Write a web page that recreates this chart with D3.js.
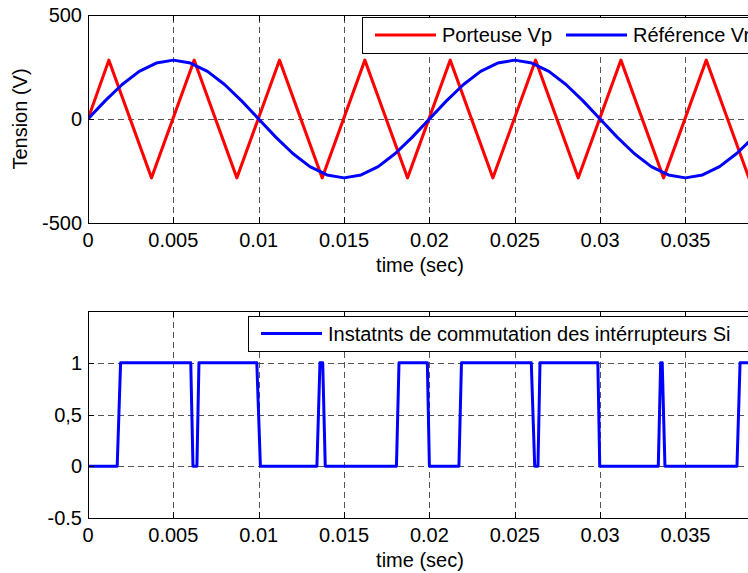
<!DOCTYPE html>
<html>
<head>
<meta charset="utf-8">
<script src="https://cdn.jsdelivr.net/npm/d3@7"></script>
<style>
  body { margin: 0; background: #fff; overflow: hidden; }
  text { font-family: "Liberation Sans", Arial, Helvetica, sans-serif; fill: #000; }
</style>
</head>
<body>
<svg id="fig" width="748" height="573"></svg>
<script>
// x axis ticks (seconds), shared by both plots
var timeTicks = [0, 0.005, 0.01, 0.015, 0.02, 0.025, 0.03, 0.035];
var timeTickLabels = ["0", "0.005", "0.01", "0.015", "0.02", "0.025", "0.03", "0.035"];

// top plot: triangular carrier (vertices)
var carrierTimes = [0, 0.00122, 0.00372, 0.00622, 0.00872, 0.01122, 0.01372, 0.01622, 0.01872,
                    0.02122, 0.02372, 0.02622, 0.02872, 0.03122, 0.03372, 0.03622, 0.03872, 0.04];
var carrierVolts = [0, 283, -283, 283, -283, 283, -283, 283, -283,
                    283, -283, 283, -283, 283, -283, 283, -283, -130];

// top plot: sinusoidal reference, one reading per ms
var refTimes = [0, 0.001, 0.002, 0.003, 0.004, 0.005, 0.006, 0.007, 0.008, 0.009,
                0.01, 0.011, 0.012, 0.013, 0.014, 0.015, 0.016, 0.017, 0.018, 0.019,
                0.02, 0.021, 0.022, 0.023, 0.024, 0.025, 0.026, 0.027, 0.028, 0.029,
                0.03, 0.031, 0.032, 0.033, 0.034, 0.035, 0.036, 0.037, 0.038, 0.039, 0.04];
var refVolts = [0, 87, 166, 229, 269, 283, 269, 229, 166, 87,
                0, -87, -166, -229, -269, -283, -269, -229, -166, -87,
                0, 87, 166, 229, 269, 283, 269, 229, 166, 87,
                0, -87, -166, -229, -269, -283, -269, -229, -166, -87, 0];
var topYTicks = [-500, 0, 500];
var topYTickLabels = ["-500", "0", "500"];

// bottom plot: switching states
var pulseTimes = [0, 0.00171, 0.00191, 0.00602, 0.00615, 0.00638, 0.0065, 0.00989, 0.0101,
                  0.01341, 0.01359, 0.01375, 0.0139, 0.01807, 0.01822, 0.01988, 0.02,
                  0.02173, 0.02188, 0.02597, 0.02617, 0.02636, 0.02648, 0.02987, 0.02998,
                  0.03341, 0.03355, 0.03364, 0.0338, 0.03802, 0.0382, 0.04];
var pulseStates = [0, 0, 1, 1, 0, 0, 1, 1, 0,
                   0, 1, 1, 0, 0, 1, 1, 0,
                   0, 1, 1, 0, 0, 1, 1, 0,
                   0, 1, 1, 0, 0, 1, 1];
var bottomYTicks = [-0.5, 0, 0.5, 1];
var bottomYTickLabels = ["-0.5", "0", "0,5", "1"];

var svg = d3.select("#fig");
var fontSize = 20;

// x scale, same for both plots (right edge falls just outside the window)
var x = d3.scaleLinear().domain([0, 0.0389]).range([88, 752]);

function drawAxes(opts) {
  var y = opts.y;
  var g = svg.append("g");
  var x0 = x.range()[0], x1 = x.range()[1];
  var yb = y.range()[0], yt = y.range()[1];

  g.append("clipPath").attr("id", opts.id)
    .append("rect").attr("x", x0).attr("y", yt).attr("width", x1 - x0).attr("height", yb - yt);

  // dashed grid
  var grid = g.append("g").attr("stroke", "#555").attr("stroke-width", 1)
    .attr("stroke-dasharray", "6,4").attr("shape-rendering", "crispEdges");
  grid.selectAll(".vg").data(timeTicks.filter(function(t) { return t > 0; }))
    .enter().append("line")
    .attr("x1", function(d) { return Math.round(x(d)) + 0.5; })
    .attr("x2", function(d) { return Math.round(x(d)) + 0.5; })
    .attr("y1", yb).attr("y2", yt);
  grid.selectAll(".hg").data(opts.ticks.filter(function(t) { return y(t) < yb - 1 && y(t) > yt + 1; }))
    .enter().append("line")
    .attr("x1", x0).attr("x2", x1)
    .attr("y1", function(d) { return Math.round(y(d)) + 0.5; })
    .attr("y2", function(d) { return Math.round(y(d)) + 0.5; });

  // data lines
  var plot = g.append("g").attr("clip-path", "url(#" + opts.id + ")");
  opts.series.forEach(function(s) {
    var line = d3.line()
      .x(function(d, i) { return x(s.t[i]); })
      .y(function(d) { return y(d); });
    plot.append("path")
      .attr("d", line(s.v))
      .attr("fill", "none")
      .attr("stroke", s.color)
      .attr("stroke-width", 3)
      .attr("stroke-linejoin", "round");
  });

  // box and inner ticks
  var frame = g.append("g").attr("stroke", "#000").attr("stroke-width", 1).attr("shape-rendering", "crispEdges");
  frame.append("rect").attr("x", x0 + 0.5).attr("y", yt + 0.5)
    .attr("width", x1 - x0).attr("height", yb - yt).attr("fill", "none");
  timeTicks.forEach(function(t) {
    var px = Math.round(x(t)) + 0.5;
    frame.append("line").attr("x1", px).attr("x2", px).attr("y1", yb).attr("y2", yb - 6);
    frame.append("line").attr("x1", px).attr("x2", px).attr("y1", yt).attr("y2", yt + 6);
  });
  opts.ticks.forEach(function(t) {
    var py = Math.round(y(t)) + 0.5;
    frame.append("line").attr("x1", x0).attr("x2", x0 + 6).attr("y1", py).attr("y2", py);
  });

  // tick labels
  g.selectAll(".xl").data(timeTicks).enter().append("text")
    .attr("x", function(d) { return x(d); })
    .attr("y", yb + 24)
    .attr("text-anchor", "middle")
    .attr("font-size", fontSize)
    .text(function(d, i) { return timeTickLabels[i]; });
  g.selectAll(".yl").data(opts.ticks).enter().append("text")
    .attr("x", x0 - 6)
    .attr("y", function(d) { return y(d); })
    .attr("dy", "0.36em")
    .attr("text-anchor", "end")
    .attr("font-size", fontSize)
    .text(function(d, i) { return opts.tickLabels[i]; });

  g.append("text")
    .attr("x", (x0 + x1) / 2)
    .attr("y", yb + 49)
    .attr("text-anchor", "middle")
    .attr("font-size", fontSize)
    .text("time (sec)");

  if (opts.ylabel) {
    g.append("text")
      .attr("transform", "translate(27," + ((yb + yt) / 2) + ") rotate(-90)")
      .attr("text-anchor", "middle")
      .attr("font-size", fontSize)
      .text(opts.ylabel);
  }

  // legend
  var lg = g.append("g");
  lg.append("rect")
    .attr("x", opts.legend.x + 0.5).attr("y", opts.legend.y + 0.5)
    .attr("width", opts.legend.w).attr("height", opts.legend.h)
    .attr("fill", "#fff").attr("stroke", "#000").attr("shape-rendering", "crispEdges");
  opts.legend.items.forEach(function(it) {
    var ly = opts.legend.y + opts.legend.h / 2;
    lg.append("line")
      .attr("x1", it.x).attr("x2", it.x + 61)
      .attr("y1", ly).attr("y2", ly)
      .attr("stroke", it.color).attr("stroke-width", 3);
    lg.append("text")
      .attr("x", it.x + 67).attr("y", ly + 7)
      .attr("font-size", fontSize)
      .text(it.label);
  });
}

drawAxes({
  id: "clipTop",
  y: d3.scaleLinear().domain([-500, 500]).range([223, 15]),
  ticks: topYTicks,
  tickLabels: topYTickLabels,
  ylabel: "Tension (V)",
  series: [
    {t: carrierTimes, v: carrierVolts, color: "#ff0000"},
    {t: refTimes, v: refVolts, color: "#0000ff"}
  ],
  legend: {x: 362, y: 17, w: 480, h: 36, items: [
    {x: 375, color: "#ff0000", label: "Porteuse Vp"},
    {x: 566, color: "#0000ff", label: "Référence Vref"}
  ]}
});

drawAxes({
  id: "clipBottom",
  y: d3.scaleLinear().domain([-0.5, 1.5]).range([518, 311]),
  ticks: bottomYTicks,
  tickLabels: bottomYTickLabels,
  series: [
    {t: pulseTimes, v: pulseStates, color: "#0000ff"}
  ],
  legend: {x: 248, y: 316, w: 500, h: 35, items: [
    {x: 261, color: "#0000ff", label: "Instatnts de commutation des intérrupteurs Si"}
  ]}
});
</script>
</body>
</html>
